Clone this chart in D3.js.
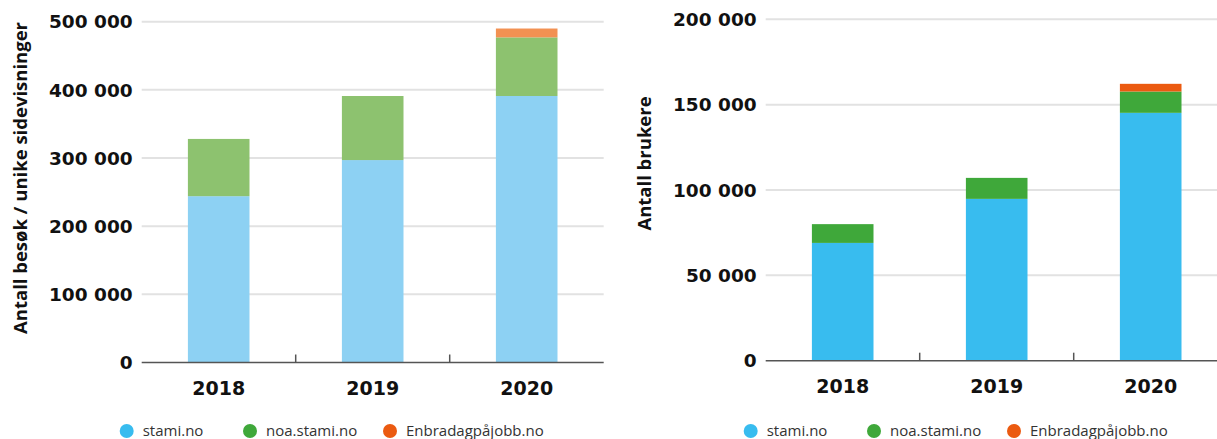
<!DOCTYPE html>
<html>
<head>
<meta charset="utf-8">
<script src="https://cdn.jsdelivr.net/npm/d3@7"></script>
<style>
  body { margin: 0; background: #fff; }
  svg { display: block; }
</style>
</head>
<body>
<svg width="1217" height="439"></svg>
<script>
/* global d3 */
var years = ["2018", "2019", "2020"];
var seriesNames = ["stami.no", "noa.stami.no", "Enbradagpåjobb.no"];
var seriesColors = ["#38BCEF", "#3FA83A", "#EB5A10"];
var fadedColors = ["#8DD1F3", "#8DC26F", "#F29152"];

// besøk / unike sidevisninger
var visitsStami = [244000, 297000, 391000];
var visitsNoa = [84000, 94000, 86000];
var visitsEnbradag = [0, 0, 13000];
var visitsTicks = [0, 100000, 200000, 300000, 400000, 500000];

// brukere
var usersStami = [69000, 94800, 145200];
var usersNoa = [11000, 12300, 12500];
var usersEnbradag = [0, 0, 4500];
var usersTicks = [0, 50000, 100000, 150000, 200000];

var locale = d3.formatLocale({decimal: ",", thousands: "\u00a0", grouping: [3], currency: ["", ""]});
var fmt = locale.format(",d");

var svg = d3.select("svg");

function tegn_diagram(cfg) {
  var left = cfg.left, top = cfg.top, bottom = cfg.bottom, width = 462;

  var rows = years.map(function(y, i) {
    return {year: y, a: cfg.values[0][i], b: cfg.values[1][i], c: cfg.values[2][i]};
  });
  var stack = d3.stack().keys(["a", "b", "c"]);
  var layers = stack(rows);

  var x = d3.scaleBand().domain(years).range([left, left + width]).paddingInner(0.6).paddingOuter(0.3);
  var y = d3.scaleLinear().domain([0, cfg.max]).range([bottom, top]);

  var g = svg.append("g");

  // gridlines
  g.selectAll(".grid")
    .data(cfg.ticks.filter(function(d) { return d > 0; }))
    .enter().append("line")
    .attr("x1", left).attr("x2", cfg.gridEnd)
    .attr("y1", function(d) { return y(d); })
    .attr("y2", function(d) { return y(d); })
    .attr("stroke", "#e2e2e2")
    .attr("stroke-width", 2);

  // y tick labels
  g.selectAll(".ylab")
    .data(cfg.ticks)
    .enter().append("text")
    .attr("x", left - 9)
    .attr("y", function(d) { return y(d); })
    .attr("dy", "0.36em")
    .attr("text-anchor", "end")
    .style("font", "bold 18.5px 'DejaVu Sans'")
    .attr("fill", "#111")
    .text(function(d) { return fmt(d); });

  // bars
  g.selectAll(".layer")
    .data(layers)
    .enter().append("g")
    .attr("fill", function(d, i) { return cfg.colors[i]; })
    .selectAll("rect")
    .data(function(d) { return d; })
    .enter().append("rect")
    .attr("x", function(d) { return x(d.data.year); })
    .attr("width", x.bandwidth())
    .attr("y", function(d) { return y(d[1]); })
    .attr("height", function(d) { return y(d[0]) - y(d[1]); });

  // x axis line and ticks
  g.append("line")
    .attr("x1", left).attr("x2", cfg.gridEnd)
    .attr("y1", bottom).attr("y2", bottom)
    .attr("stroke", "#555").attr("stroke-width", 1.5);

  var step = x.step();
  g.selectAll(".xtick")
    .data([1, 2])
    .enter().append("line")
    .attr("x1", function(d) { return left + d * step; })
    .attr("x2", function(d) { return left + d * step; })
    .attr("y1", bottom).attr("y2", bottom - 8)
    .attr("stroke", "#555").attr("stroke-width", 1.5);

  g.selectAll(".xlab")
    .data(years)
    .enter().append("text")
    .attr("x", function(d) { return x(d) + x.bandwidth() / 2; })
    .attr("y", bottom + 32)
    .attr("text-anchor", "middle")
    .style("font", "bold 19px 'DejaVu Sans'")
    .attr("fill", "#111")
    .text(function(d) { return d; });

  // y title
  g.append("text")
    .attr("transform", "translate(" + (left - 115) + "," + cfg.titleY + ") rotate(-90)")
    .attr("text-anchor", "middle")
    .style("font", "bold 18.5px 'Open Sans'")
    .attr("fill", "#111")
    .text(cfg.title);

  // legend
  var offsets = [0, 123.3, 263.3];
  seriesNames.forEach(function(name, i) {
    var item = g.append("g").attr("transform", "translate(" + (left - 15 + offsets[i]) + ",431)");
    item.append("circle").attr("r", 7).attr("fill", seriesColors[i]);
    item.append("text")
      .attr("x", 16)
      .attr("dy", "0.35em")
      .style("font", "15px 'Open Sans'")
      .attr("fill", "#333")
      .text(name);
  });
}

tegn_diagram({
  left: 141.7, top: 21.7, bottom: 362.5, gridEnd: 603.7,
  max: 500000, ticks: visitsTicks,
  values: [visitsStami, visitsNoa, visitsEnbradag],
  colors: fadedColors, title: "Antall besøk / unike sidevisninger", titleY: 178
});

tegn_diagram({
  left: 765.7, top: 19.3, bottom: 360.7, gridEnd: 1217,
  max: 200000, ticks: usersTicks,
  values: [usersStami, usersNoa, usersEnbradag],
  colors: seriesColors, title: "Antall brukere", titleY: 163.5
});
</script>
</body>
</html>
